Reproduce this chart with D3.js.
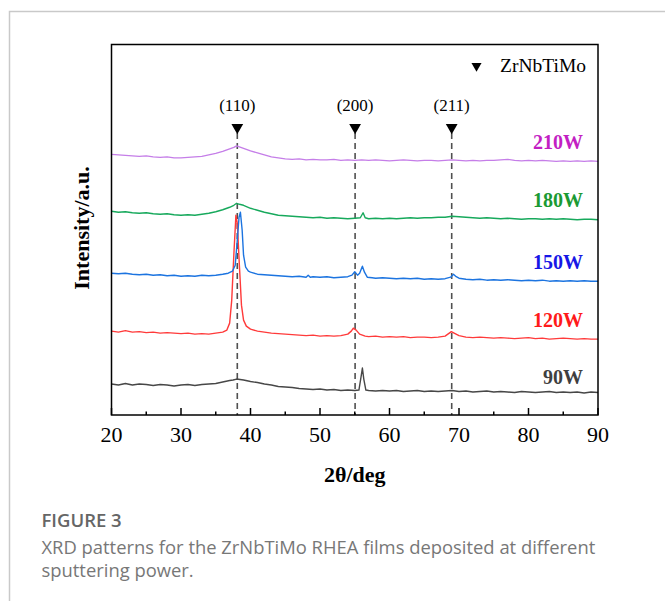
<!DOCTYPE html>
<html>
<head>
<meta charset="utf-8">
<script src="https://cdn.jsdelivr.net/npm/d3@7"></script>
<style>
	body { margin: 0; background: #fff; }
	svg { display: block; }
</style>
</head>
<body>
<div class="figure"></div>
<script>

// XRD patterns, [2theta, intensity a.u. (offset already applied)]
var xrd90W = [[20,31],[21,30],[22,31.5],[23,30],[24,31],[25,30.5],[26,29.5],[27,30.5],[28,30],[29,29],[30,30],[31,30.5],[32,29.5],[33,30.5],[34,31],[35,31.5],[36,33],[37,34.5],[37.5,35],[38,36],[38.5,35.5],[39,35],[40,33.5],[41,32.5],[42,31],[43,30],[44,28.5],[45,28],[46,27.5],[47,26.5],[48,26],[49,25.5],[50,26],[51,25],[52,25.5],[53,24.5],[54,25],[55,24.5],[55.6,25],[55.9,38],[56.1,47],[56.3,36],[56.6,25],[57,24.5],[58,24],[59,24.5],[60,24],[61,24.5],[62,23.5],[63,24],[64,24.5],[65,23.5],[66,24],[67,23.5],[68,24],[69,24.5],[70,23.5],[71,24],[72,23],[73,23.5],[74,24],[75,23],[76,23.5],[77,23],[78,22.5],[79,23.5],[80,23],[81,22.5],[82,23],[83,23.5],[84,22.5],[85,23],[86,22.5],[87,23],[88,22],[89,23],[90,22.5]];

var xrd120W = [[20,84],[21,83],[22,84.5],[23,83],[24,83.5],[25,82.5],[26,83],[27,82],[28,82.5],[29,82],[30,81.5],[31,82],[32,81],[33,81.5],[34,81],[35,82],[36,83],[36.6,85],[37,92],[37.3,115],[37.6,160],[37.9,200],[38.1,192],[38.4,150],[38.7,110],[39,95],[39.4,89],[40,86],[41,84],[42,83],[43,82],[44,81.5],[45,81],[46,80.5],[47,80],[48,79.5],[49,80],[50,79],[51,79.5],[52,79],[53,79.5],[54,81],[54.5,84],[54.8,87],[55.2,85],[55.7,81],[56.5,79],[57,78.5],[58,79],[59,78],[60,78.5],[61,78],[62,78.5],[63,77.5],[64,78],[65,78],[66,77.5],[67,78],[68,79],[68.6,82],[68.9,83.5],[69.3,82],[70,79.5],[71,78],[72,77.5],[73,78],[74,77.5],[75,77],[76,77.5],[77,77],[78,76.5],[79,77],[80,77.5],[81,76.5],[82,77],[83,76],[84,76.5],[85,77],[86,76.5],[87,76],[88,76.5],[89,76],[90,76]];

var xrd150W = [[20,142],[21,141.5],[22,142],[23,141],[24,140.5],[25,141],[26,140],[27,140.5],[28,139.5],[29,140],[30,139],[31,139.5],[32,139],[33,140],[34,139.5],[35,140],[36,141],[36.8,142],[37.4,144],[37.8,150],[38.1,175],[38.35,198],[38.55,203],[38.8,185],[39,160],[39.3,148],[39.7,144],[40,143],[41,141],[42,140.5],[43,140],[44,139.5],[45,139],[46,138.5],[47,139],[48,138],[48.3,140],[48.6,138],[49,138.5],[50,138],[51,138.5],[52,137.5],[53,138],[54,138.5],[54.6,140],[55,143.5],[55.4,140],[55.7,142],[56.1,149],[56.4,143],[56.8,138],[57.5,137.5],[58,137],[59,137.5],[60,137],[61,136.5],[62,137],[63,136.5],[64,137],[65,136],[66,136.5],[67,136],[68,136.5],[68.8,138],[69.2,141],[69.6,138.5],[70,137],[71,136],[72,135.5],[73,136],[74,135],[75,135.5],[76,135],[77,135.5],[78,135],[79,134.5],[80,135],[81,134.5],[82,135],[83,134],[84,134.5],[85,134],[86,134.5],[87,134],[88,134.5],[89,134],[90,134]];

var xrd180W = [[20,204],[21,203],[22,203.5],[23,202.5],[24,202],[25,202.5],[26,201.5],[27,201],[28,201.5],[29,200.5],[30,200],[31,200.5],[32,200],[33,201],[34,202],[35,203.5],[36,205.5],[37,208],[37.6,210],[38,212],[38.4,211],[39,210],[39.5,208.5],[40,207],[41,205],[42,203],[43,201.5],[44,200],[45,199.5],[46,199],[47,198.5],[48,198],[49,197.5],[50,198],[51,197],[52,197.5],[53,197],[54,196.5],[55,197],[55.8,197.5],[56.2,202.5],[56.5,197.5],[57,196.5],[58,197],[59,196.5],[60,197],[61,196.5],[62,197],[63,197.5],[64,197],[65,197.5],[66,197.5],[67,198],[68,198],[69,199],[70,198.5],[71,198],[72,197.5],[73,197],[74,197.5],[75,197],[76,196.5],[77,197],[78,196.5],[79,196],[80,196.5],[81,196.5],[82,196],[83,196.5],[84,196],[85,196.5],[86,196],[87,195.5],[88,196],[89,196],[90,195.5]];

var xrd210W = [[20,261],[21,260.5],[22,260],[23,259.5],[24,259],[25,259.5],[26,258.5],[27,258],[28,258.5],[29,257.5],[30,257.5],[31,258],[32,258.5],[33,259],[34,260.5],[35,262],[36,264],[37,266.5],[37.6,268],[38,269.5],[38.4,268.5],[39,267],[40,264.5],[41,262.5],[42,260.5],[43,258.5],[44,257.5],[45,256.5],[46,256],[47,256.5],[48,255.5],[49,256],[50,255.5],[51,255.5],[52,256],[53,255],[54,255.5],[55,255],[56,255.5],[57,255],[58,255.5],[59,255],[60,254.5],[61,255],[62,255.5],[63,255],[64,254.5],[65,255],[66,255],[67,254.5],[68,255],[69,255.5],[70,255],[71,254.5],[72,255],[73,254.5],[74,255],[75,255],[76,255.5],[77,256],[78,255],[79,254.5],[80,255],[81,254.5],[82,255],[83,254.5],[84,254],[85,254.5],[86,254],[87,254.5],[88,254],[89,254.5],[90,254]];

var powers = ["90W", "120W", "150W", "180W", "210W"];
var patterns = [xrd90W, xrd120W, xrd150W, xrd180W, xrd210W];
var lineColors = ["#474747", "#ff3a3a", "#1c74e0", "#17a95c", "#c57ee8"];
var labelColors = ["#3f3f3f", "#ff1a1a", "#1717e6", "#1b9a33", "#c31fc3"];
// label heights in a.u.
var labelLevels = [31, 88, 146, 208, 266.5];

var planes = ["(110)", "(200)", "(211)"];
var planePositions = [38.1, 55.05, 68.95];
var xTicks = [20, 30, 40, 50, 60, 70, 80, 90];
var xMinorTicks = [25, 35, 45, 55, 65, 75, 85];

var margin = {top: 44.5, left: 111.5, right: 598, bottom: 415},
	width = 665,
	height = 601;

var svg = d3.select(".figure").append("svg")
	.attr("width", width)
	.attr("height", height);

// card border like the journal page
svg.append("path")
	.attr("d", "M9.5," + height + "V11.5H" + width)
	.attr("fill", "none")
	.attr("stroke", "#c9c9c9")
	.attr("stroke-width", 1.5);

var x = d3.scaleLinear().domain([20, 90]).range([margin.left, margin.right]);
var y = d3.scaleLinear().domain([0, 371]).range([margin.bottom, margin.top]);

// dashed reference lines for the planes
svg.selectAll(".ref")
	.data(planePositions)
	.enter().append("line")
	.attr("class", "ref")
	.attr("x1", function(d) { return x(d); })
	.attr("x2", function(d) { return x(d); })
	.attr("y1", 133)
	.attr("y2", margin.bottom)
	.attr("stroke", "#505050")
	.attr("stroke-width", 1.6)
	.attr("stroke-dasharray", "6,4");

var line = d3.line()
	.x(function(d) { return x(d[0]); })
	.y(function(d) { return y(d[1]); });

patterns.forEach(function(p, i) {
	svg.append("path")
		.datum(p)
		.attr("d", line)
		.attr("fill", "none")
		.attr("stroke", lineColors[i])
		.attr("stroke-width", 1.4)
		.attr("stroke-linejoin", "round");

	svg.append("text")
		.attr("x", 583)
		.attr("y", y(labelLevels[i]))
		.attr("text-anchor", "end")
		.attr("font-family", "Liberation Serif, Times New Roman, serif")
		.attr("font-weight", "bold")
		.attr("font-size", 20)
		.attr("fill", labelColors[i])
		.text(powers[i]);
});

// triangle markers and plane labels
var tri = d3.symbol().type(d3.symbolTriangle).size(60);

svg.selectAll(".mark")
	.data(planePositions)
	.enter().append("path")
	.attr("class", "mark")
	.attr("d", tri)
	.attr("transform", function(d) { return "translate(" + x(d) + ",127.5) rotate(180)"; })
	.attr("fill", "#000");

svg.selectAll(".plane")
	.data(planes)
	.enter().append("text")
	.attr("class", "plane")
	.attr("x", function(d, i) { return x(planePositions[i]); })
	.attr("y", 111)
	.attr("text-anchor", "middle")
	.attr("font-family", "Liberation Serif, Times New Roman, serif")
	.attr("font-size", 17)
	.attr("fill", "#000")
	.text(function(d) { return d; });

// legend
svg.append("path")
	.attr("d", d3.symbol().type(d3.symbolTriangle).size(44))
	.attr("transform", "translate(476.5,66) rotate(180)")
	.attr("fill", "#000");

svg.append("text")
	.attr("x", 500)
	.attr("y", 72)
	.attr("font-family", "Liberation Serif, Times New Roman, serif")
	.attr("font-size", 19.5)
	.attr("fill", "#000")
	.text("ZrNbTiMo");

// axis with inward ticks
var axis = svg.append("g")
	.attr("transform", "translate(0," + margin.bottom + ")");

axis.selectAll(".major")
	.data(xTicks)
	.enter().append("line")
	.attr("x1", function(d) { return x(d); })
	.attr("x2", function(d) { return x(d); })
	.attr("y1", 0)
	.attr("y2", -7)
	.attr("stroke", "#000")
	.attr("stroke-width", 1.5);

axis.selectAll(".minor")
	.data(xMinorTicks)
	.enter().append("line")
	.attr("x1", function(d) { return x(d); })
	.attr("x2", function(d) { return x(d); })
	.attr("y1", 0)
	.attr("y2", -3.5)
	.attr("stroke", "#000")
	.attr("stroke-width", 1.5);

axis.selectAll(".tick-label")
	.data(xTicks)
	.enter().append("text")
	.attr("x", function(d) { return x(d); })
	.attr("y", 27)
	.attr("text-anchor", "middle")
	.attr("font-family", "Liberation Serif, Times New Roman, serif")
	.attr("font-size", 22)
	.attr("fill", "#000")
	.text(function(d) { return d; });

// frame
svg.append("rect")
	.attr("x", margin.left)
	.attr("y", margin.top)
	.attr("width", margin.right - margin.left)
	.attr("height", margin.bottom - margin.top)
	.attr("fill", "none")
	.attr("stroke", "#000")
	.attr("stroke-width", 1.5);

// axis titles
svg.append("text")
	.attr("x", x(55))
	.attr("y", 482)
	.attr("text-anchor", "middle")
	.attr("font-family", "Liberation Serif, Times New Roman, serif")
	.attr("font-weight", "bold")
	.attr("font-size", 22)
	.text("2θ/deg");

svg.append("text")
	.attr("transform", "translate(89,228) rotate(-90)")
	.attr("text-anchor", "middle")
	.attr("font-family", "Liberation Serif, Times New Roman, serif")
	.attr("font-weight", "bold")
	.attr("font-size", 22)
	.text("Intensity/a.u.");

// caption
svg.append("text")
	.attr("x", 41.5)
	.attr("y", 527)
	.attr("font-family", "Open Sans, sans-serif")
	.attr("font-weight", 600)
	.attr("font-size", 18.5)
	.attr("fill", "#666")
	.text("FIGURE 3");

svg.append("text")
	.attr("x", 41.5)
	.attr("y", 554)
	.attr("font-family", "Open Sans, sans-serif")
	.attr("font-size", 18.4)
	.attr("fill", "#777")
	.text("XRD patterns for the ZrNbTiMo RHEA films deposited at different");

svg.append("text")
	.attr("x", 41.5)
	.attr("y", 577)
	.attr("font-family", "Open Sans, sans-serif")
	.attr("font-size", 18.4)
	.attr("fill", "#777")
	.text("sputtering power.");

</script>
</body>
</html>
